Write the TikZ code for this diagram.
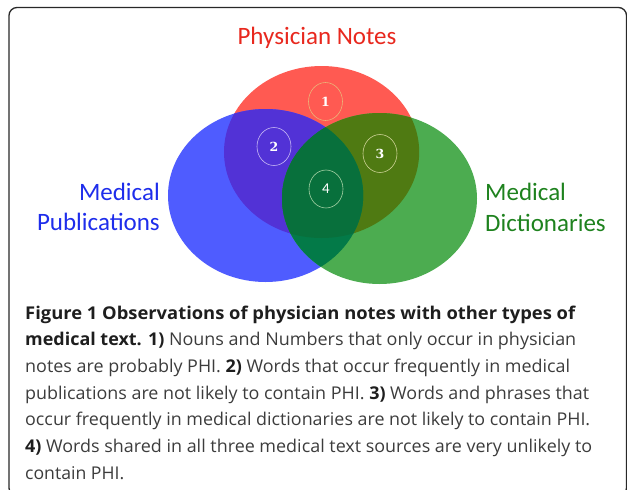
\documentclass[tikz,border=0pt]{standalone}
\usepackage{graphicx}
\usepackage{fontspec}
\setmainfont{Open Sans}
\newfontfamily\labfont{Carlito}
\newfontfamily\numfont{DejaVu Serif}
\usetikzlibrary{shapes.geometric}
\definecolor{frameC}{RGB}{40,40,40}
\definecolor{Rc}{RGB}{255,90,82}
\definecolor{Bc}{RGB}{79,92,255}
\definecolor{Gc}{RGB}{76,172,80}
\definecolor{RBc}{RGB}{82,50,214}
\definecolor{RGc}{RGB}{79,122,18}
\definecolor{BGc}{RGB}{3,122,72}
\definecolor{RBGc}{RGB}{8,112,60}
\definecolor{redlab}{RGB}{232,40,30}
\definecolor{bluelab}{RGB}{30,45,235}
\definecolor{greenlab}{RGB}{30,130,30}
\definecolor{capbold}{RGB}{30,30,30}
\definecolor{captext}{RGB}{60,60,60}
\definecolor{o1}{RGB}{236,178,120}
\definecolor{o2}{RGB}{200,185,245}
\definecolor{o3}{RGB}{205,210,150}
\definecolor{o4}{RGB}{165,210,165}
\newcommand\fitw[2]{\resizebox{#1}{\height}{#2}}
\newcommand\bd[1]{\textcolor{capbold}{\bfseries #1}}
\tikzset{
  setlab/.style={font=\labfont\fontsize{25}{25}\selectfont, inner sep=0pt},
  regnum/.style={ellipse, draw, line width=0.6pt, minimum width=34pt, minimum height=38pt, inner sep=0pt, text=white},
  serifnum/.style={font=\numfont\bfseries\fontsize{12.5}{12.5}\selectfont},
  sansnum/.style={font=\labfont\fontsize{15}{15}\selectfont},
  capline/.style={anchor=base west, inner sep=0pt, text=captext, font=\fontsize{17.6}{26}\selectfont},
}
\begin{document}
\begin{tikzpicture}[x=1pt,y=-1pt]
\useasboundingbox (0,0) rectangle (627,490);
\draw[frameC, line width=1.3pt, rounded corners=8pt] (9,7.5) rectangle (626.5,496);
\def\redE{(321.6,152) ellipse [x radius=97.6pt, y radius=86pt]}
\def\blueE{(265.6,195.5) ellipse [x radius=97.6pt, y radius=86.5pt]}
\def\greenE{(379.5,198.5) ellipse [x radius=97.5pt, y radius=85.5pt]}
\fill[Rc] \redE;
\fill[Bc] \blueE;
\fill[Gc] \greenE;
\begin{scope}\clip \redE; \fill[RBc] \blueE; \end{scope}
\begin{scope}\clip \redE; \fill[RGc] \greenE; \end{scope}
\begin{scope}\clip \blueE; \fill[BGc] \greenE; \end{scope}
\begin{scope}\clip \redE; \clip \blueE; \fill[RBGc] \greenE; \end{scope}
% region markers
\node[regnum, draw=o1, serifnum] (r1) at (325.5,101.5) {1};
\node[regnum, draw=o2, serifnum] (r2) at (274,146.5) {2};
\node[regnum, draw=o3, serifnum] (r3) at (380,153.5) {3};
\node[regnum, draw=o4, sansnum] (r4) at (326,189) {4};
% set labels
\node[setlab, text=redlab, anchor=base] (ln) at (317,44) {Physician Notes};
\node[setlab, text=bluelab, anchor=base east] (lp1) at (160,200) {Medical};
\node[setlab, text=bluelab, anchor=base east] (lp2) at (160,230.5) {Publications};
\node[setlab, text=greenlab, anchor=base west] (ld1) at (485,200) {Medical};
\node[setlab, text=greenlab, anchor=base west] (ld2) at (485,231) {Dictionaries};
% caption
\node[capline] (c1) at (25,319) {\fitw{550pt}{\bd{Figure 1 Observations of physician notes with other types of}}};
\node[capline] (c2) at (25,345.7) {\fitw{551pt}{\bd{medical text. 1)} Nouns and Numbers that only occur in physician}};
\node[capline] (c3) at (25,372.4) {\fitw{545pt}{notes are probably PHI. \bd{2)} Words that occur frequently in medical}};
\node[capline] (c4) at (25,399.1) {\fitw{564pt}{publications are not likely to contain PHI. \bd{3)} Words and phrases that}};
\node[capline] (c5) at (25,425.8) {\fitw{565pt}{occur frequently in medical dictionaries are not likely to contain PHI.}};
\node[capline] (c6) at (25,452.5) {\fitw{567pt}{\bd{4)} Words shared in all three medical text sources are very unlikely to}};
\node[capline] (c7) at (25,479.2) {\fitw{99pt}{contain PHI.}};
\end{tikzpicture}
\end{document}
